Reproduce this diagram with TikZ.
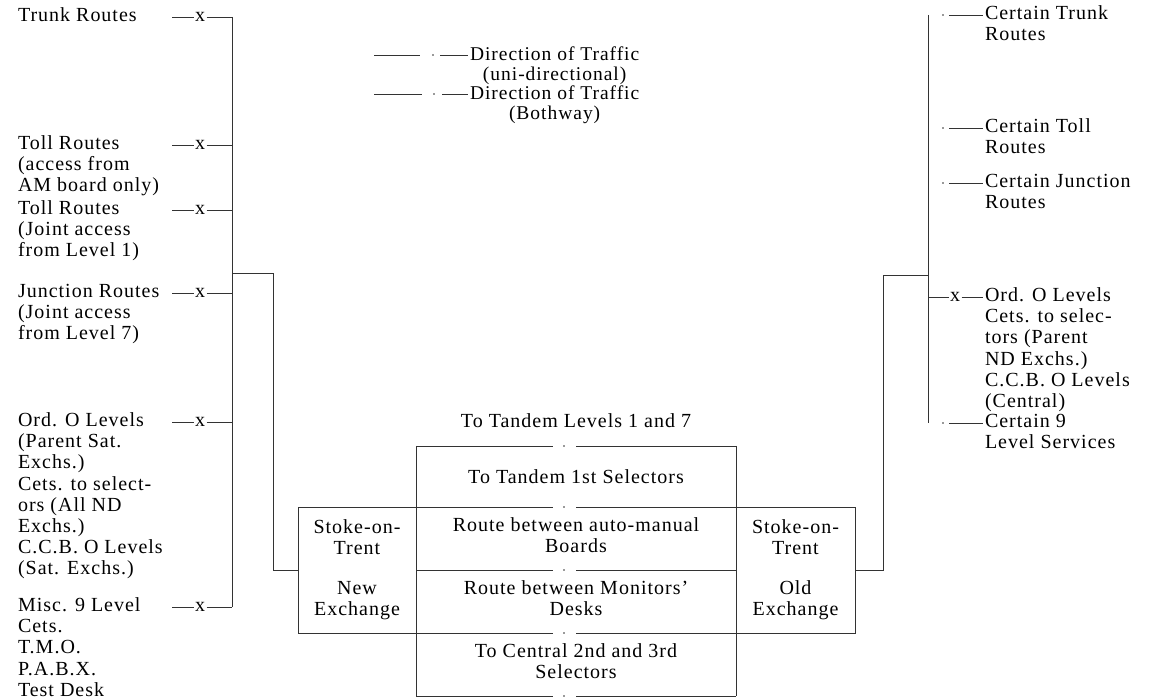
\documentclass[tikz,border=0pt]{standalone}
\usepackage{fontspec}
\setmainfont{Liberation Serif}[LetterSpace=5]
\usetikzlibrary{calc}
\begin{document}
\begin{tikzpicture}[x=1pt,y=-1pt,
  every node/.style={inner sep=0pt, outer sep=0pt, text=black},
  lbl/.style={anchor=north west, align=left, font=\fontsize{20}{21.1}\selectfont},
  leg/.style={anchor=north west, align=center, font=\fontsize{19.5}{18.5}\selectfont},
  ctr/.style={align=center, font=\fontsize{20}{21.1}\selectfont},
  box/.style={ctr, draw=black!80, line width=0.7pt, minimum height=126pt},
  ln/.style={line width=0.7pt, draw=black!80},
  xm/.style={font=\fontsize{20}{21.1}\selectfont, inner sep=1.5pt},
  dot/.style={fill=black!80},
]
\useasboundingbox (0,0) rectangle (1152,700);

% ---------------- legend ----------------
\coordinate (lg1a) at (374,55); \coordinate (lg1b) at (420,55);
\coordinate (lg1c) at (440,55); \coordinate (lg1d) at (468,55);
\draw[ln] (lg1a) -- (lg1b); \fill[dot] (433,55) circle (0.9); \draw[ln] (lg1c) -- (lg1d);
\node[leg] (leg1) at (470,46.4) {\strut Direction of Traffic\\(uni-directional)};
\coordinate (lg2a) at (374,94); \coordinate (lg2b) at (422,94);
\coordinate (lg2c) at (442,94); \coordinate (lg2d) at (468,94);
\draw[ln] (lg2a) -- (lg2b); \fill[dot] (434,94) circle (0.9); \draw[ln] (lg2c) -- (lg2d);
\node[leg] (leg2) at (470,85.4) {\strut Direction of Traffic\\(Bothway)};

% ---------------- left column ----------------
\node[lbl] (L1) at (18,7) {\strut Trunk Routes};
\node[lbl] (L2) at (18,135) {\strut Toll Routes\\(access from\\AM board only)};
\node[lbl] (L3) at (18,200) {\strut Toll Routes\\(Joint access\\from Level 1)};
\node[lbl] (L4) at (18,283) {\strut Junction Routes\\(Joint access\\from Level 7)};
\node[lbl] (L5) at (18,412) {\strut Ord. O Levels\\(Parent Sat.\\Exchs.)\\Cets. to select-\\ors (All ND\\Exchs.)\\C.C.B. O Levels\\(Sat. Exchs.)};
\node[lbl] (L6) at (18,597) {\strut Misc. 9 Level\\Cets.\\T.M.O.\\P.A.B.X.\\Test Desk};

\coordinate (spL1) at (232,17);
\coordinate (spL6) at (232,607);
\draw[ln] (spL1) -- (spL6);
\foreach \i/\yy in {1/17,2/145,3/210,4/293,5/422,6/607}{
  \node[xm] (xl\i) at (200,\yy) {x};
  \draw[ln] (172,\yy) -- (xl\i);
  \draw[ln] (xl\i) -- (232,\yy);
}

% ---------------- centre block ----------------
\node[ctr] (r0) at (576,423) {\strut To Tandem Levels 1 and 7};
\node[ctr] (r1) at (576,479) {\strut To Tandem 1st Selectors};
\node[ctr] (r2) at (576,538) {\strut Route between auto-manual\\\strut Boards};
\node[ctr] (r3) at (576,601) {\strut Route between Monitors'\\\strut Desks};
\node[ctr] (r4) at (576,664) {\strut To Central 2nd and 3rd\\\strut Selectors};
\foreach \yy in {446,507,570,633,696}{
  \draw[ln] (416,\yy) -- (553,\yy);
  \fill[dot] (564,\yy) circle (0.9);
  \draw[ln] (576,\yy) -- (736,\yy);
}
\draw[ln] (416,446) -- (416,696);
\draw[ln] (736,446) -- (736,696);

\node[box, minimum width=118pt] (newex) at (357,570)
  {\strut Stoke-on-\\\strut Trent\\[19pt]\strut New\\\strut Exchange};
\node[box, minimum width=119pt] (oldex) at (795.5,570)
  {\strut Stoke-on-\\\strut Trent\\[19pt]\strut Old\\\strut Exchange};

% brackets
\coordinate (bl1) at (232,273);
\coordinate (bl2) at (273,273);
\coordinate (bl3) at (273,570);
\draw[ln] (bl1) -- (bl2) -- (bl3) -- (newex.west);
\coordinate (br1) at (883,570);
\coordinate (br2) at (883,275);
\coordinate (br3) at (928,275);
\draw[ln] (oldex.east) -- (br1) -- (br2) -- (br3);

% ---------------- right column ----------------
\node[lbl] (R1) at (985,5) {\strut Certain Trunk\\Routes};
\node[lbl] (R2) at (985,118) {\strut Certain Toll\\Routes};
\node[lbl] (R3) at (985,173) {\strut Certain Junction\\Routes};
\node[lbl] (R4) at (985,287) {\strut Ord. O Levels\\Cets. to selec-\\tors (Parent\\ND Exchs.)\\C.C.B. O Levels\\(Central)};
\node[lbl] (R5) at (985,413) {\strut Certain 9\\Level Services};

\coordinate (spR1) at (928,15);
\coordinate (spR5) at (928,423);
\draw[ln] (spR1) -- (spR5);
\foreach \yy in {15,128,183,423}{
  \fill[dot] (943,\yy) circle (0.9);
  \draw[ln] (949,\yy) -- (983,\yy);
}
\node[xm] (xr) at (955,297) {x};
\draw[ln] (928,297) -- (xr);
\draw[ln] (xr) -- (983,297);
\end{tikzpicture}
\end{document}
